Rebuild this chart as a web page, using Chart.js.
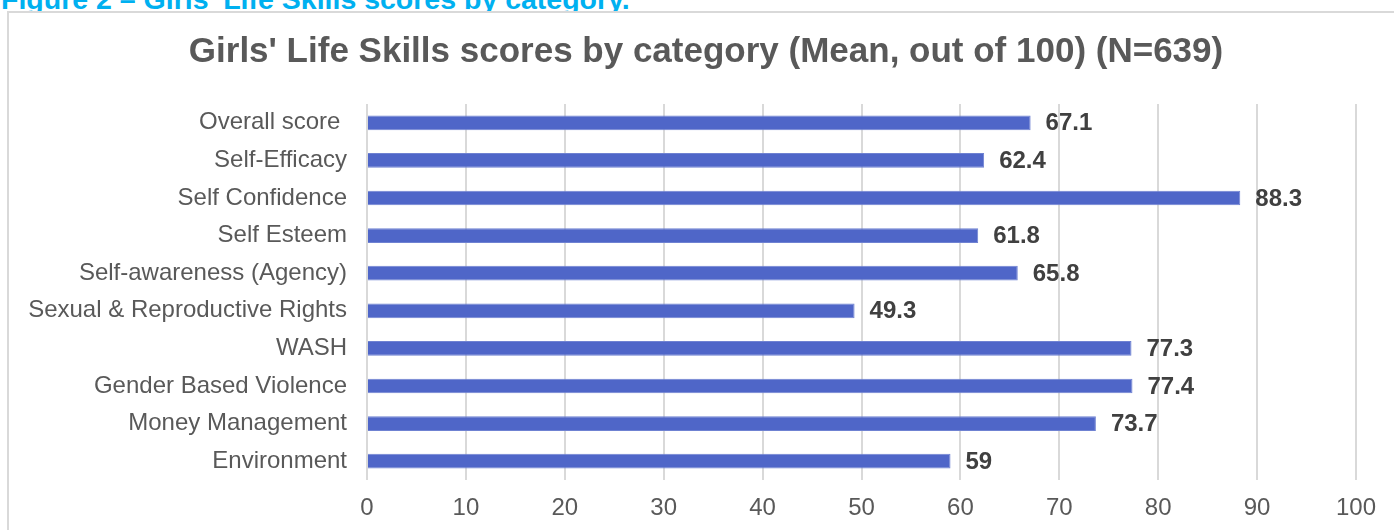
<!DOCTYPE html>
<html>
<head>
<meta charset="utf-8">
<script src="https://cdn.jsdelivr.net/npm/chart.js@4.4.1/dist/chart.umd.min.js"></script>
<style>
  html, body { margin: 0; padding: 0; background: #fff; overflow: hidden; }
  body { width: 1394px; height: 530px; position: relative; font-family: 'Liberation Sans', Arial, sans-serif; }
  #caption {
    position: absolute; left: 1px; top: -15px;
    font-size: 28.5px; line-height: 28.5px; font-weight: bold; color: #00B0F0;
    white-space: nowrap;
  }
  #frame {
    position: absolute; left: 7px; top: 11px; width: 1420px; height: 560px;
    border: 2px solid #d9d9d9; box-sizing: border-box; background: #fff;
  }
  #wrap { position: absolute; left: 0; top: 0; width: 1394px; height: 530px; }
</style>
</head>
<body>
<div id="caption">Figure 2 – Girls' Life Skills scores by category.</div>
<div id="frame"></div>
<div id="wrap"><canvas id="chart"></canvas></div>
<script>
// Data
const categories = [
  'Overall score ',
  'Self-Efficacy',
  'Self Confidence',
  'Self Esteem',
  'Self-awareness (Agency)',
  'Sexual & Reproductive Rights',
  'WASH',
  'Gender Based Violence',
  'Money Management',
  'Environment'
];
const scores = [67.1, 62.4, 88.3, 61.8, 65.8, 49.3, 77.3, 77.4, 73.7, 59];
const xTicks = [0, 10, 20, 30, 40, 50, 60, 70, 80, 90, 100];

const textColor = '#595959';
const fontFamily = "'Liberation Sans', Arial, sans-serif";

// value labels next to bar ends
const valueLabels = {
  id: 'valueLabels',
  afterDatasetsDraw(chart) {
    const ctx = chart.ctx;
    const meta = chart.getDatasetMeta(0);
    ctx.save();
    ctx.font = 'bold 24px ' + fontFamily;
    ctx.fillStyle = '#404040';
    ctx.textAlign = 'left';
    ctx.textBaseline = 'middle';
    meta.data.forEach((bar, i) => {
      ctx.fillText(String(scores[i]), bar.x + 15, bar.y + 1);
    });
    ctx.restore();
  }
};

// centre the title on the whole frame, not on the padded layout box
const titleCentre = {
  id: 'titleCentre',
  afterLayout(chart) {
    const t = chart.titleBlock;
    if (t) { t.left = 18; t.right = chart.width; t.width = t.right - t.left; }
  }
};

new Chart(document.getElementById('chart'), {
  type: 'bar',
  data: {
    labels: categories,
    datasets: [{
      data: scores,
      backgroundColor: '#4F66C8',
      borderColor: '#6F82D2',
      borderWidth: 1,
      categoryPercentage: 1,
      barPercentage: 0.39
    }]
  },
  options: {
    indexAxis: 'y',
    responsive: true,
    maintainAspectRatio: false,
    animation: false,
    layout: { padding: { top: 16, right: 38, bottom: 0, left: 0 } },
    plugins: {
      legend: { display: false },
      tooltip: { enabled: false },
      title: {
        display: true,
        text: "Girls' Life Skills scores by category (Mean, out of 100) (N=639)",
        color: textColor,
        font: { family: fontFamily, size: 35, weight: 'bold' },
        padding: { top: 15, bottom: 31 }
      }
    },
    scales: {
      x: {
        min: 0,
        max: 100,
        afterBuildTicks: axis => { axis.ticks = xTicks.map(v => ({ value: v })); },
        afterFit: axis => { axis.height = 50; },
        grid: { color: '#d9d9d9', lineWidth: 2, drawTicks: false },
        border: { display: false },
        ticks: {
          color: textColor,
          padding: 14,
          font: { family: fontFamily, size: 24 }
        }
      },
      y: {
        afterFit: axis => { axis.width = 367; },
        grid: { display: false, drawTicks: false },
        border: { display: false },
        ticks: {
          color: textColor,
          padding: 20,
          font: { family: fontFamily, size: 24 }
        }
      }
    }
  },
  plugins: [valueLabels, titleCentre]
});
</script>
</body>
</html>
